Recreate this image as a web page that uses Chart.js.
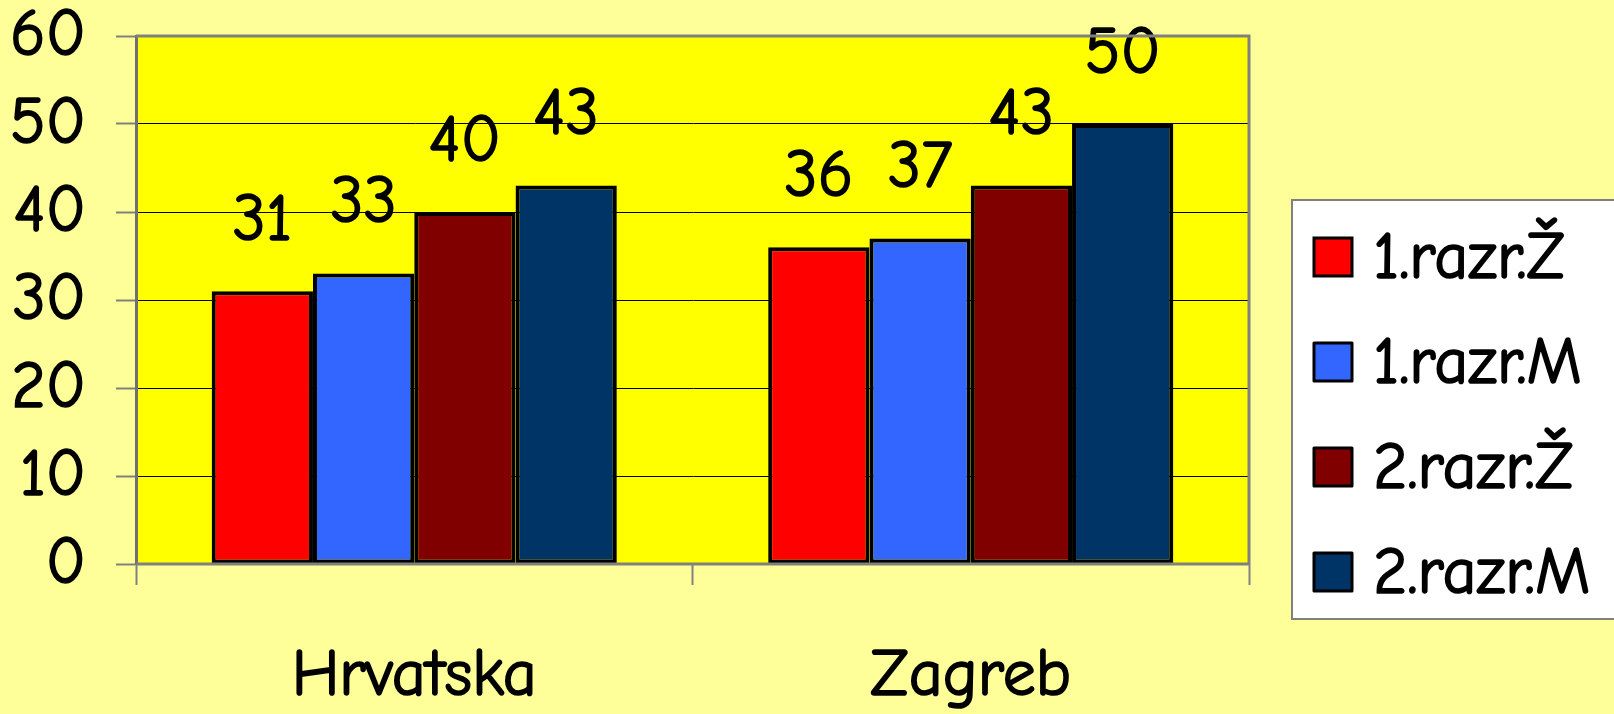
<!DOCTYPE html>
<html>
<head>
<meta charset="utf-8">
<script src="https://cdn.jsdelivr.net/npm/chart.js@4.4.1/dist/chart.umd.min.js"></script>
<style>
html,body{margin:0;padding:0;background:#FFFF99;}
canvas{display:block;}
</style>
</head>
<body>
<canvas id="c" width="1614" height="714"></canvas>
<script>
const categories = ['Hrvatska', 'Zagreb'];
const seriesNames = ['1.razr.Ž', '1.razr.M', '2.razr.Ž', '2.razr.M'];
const razr1Z = [31, 36];
const razr1M = [33, 37];
const razr2Z = [40, 43];
const razr2M = [43, 50];
const yTicks = [0, 10, 20, 30, 40, 50, 60];

const FONT = "'Comic Sans MS', 'Comic Neue', Lato, sans-serif";
const FSIZE = 66;
const FWEIGHT = 'normal';
const STROKE = 1.6;
const colors = ['#FF0000', '#3366FF', '#800000', '#003366'];
const seriesValues = [razr1Z, razr1M, razr2Z, razr2M];

function drawText(ctx, txt, x, y) {
  ctx.lineWidth = STROKE;
  ctx.strokeStyle = '#000';
  ctx.lineJoin = 'round';
  ctx.strokeText(txt, x, y);
  ctx.fillText(txt, x, y);
}

const bgPlugin = {
  id: 'bg',
  beforeDraw(chart) {
    const ctx = chart.ctx, a = chart.chartArea;
    ctx.save();
    ctx.fillStyle = '#FFFF99';
    ctx.fillRect(0, 0, chart.width, chart.height);
    ctx.fillStyle = '#FFFF00';
    ctx.fillRect(a.left, a.top, a.right - a.left, a.bottom - a.top);
    ctx.restore();
  },
  afterDraw(chart) {
    const ctx = chart.ctx, a = chart.chartArea;
    ctx.save();
    ctx.strokeStyle = '#808080';
    ctx.lineWidth = 3;
    ctx.beginPath();
    ctx.moveTo(a.left, a.top);
    ctx.lineTo(a.right, a.top);
    ctx.lineTo(a.right, a.bottom);
    ctx.stroke();
    ctx.beginPath();
    ctx.moveTo(a.left, a.bottom);
    ctx.lineTo(a.right, a.bottom);
    ctx.stroke();
    // legend
    const lx = a.right + 43, ly = 200, lw = chart.width - lx + 5, lh = 419;
    ctx.fillStyle = '#FFFFFF';
    ctx.fillRect(lx, ly, lw, lh);
    ctx.strokeStyle = '#808080';
    ctx.lineWidth = 2;
    ctx.strokeRect(lx, ly, lw, lh);
    ctx.font = FWEIGHT + ' ' + FSIZE + 'px ' + FONT;
    ctx.textBaseline = 'middle';
    ctx.textAlign = 'left';
    chart.data.datasets.forEach((ds, i) => {
      const cy = 257 + 105 * i;
      ctx.fillStyle = ds.backgroundColor;
      ctx.fillRect(lx + 22, cy - 19, 38, 38);
      ctx.strokeStyle = '#000';
      ctx.lineWidth = 3;
      ctx.strokeRect(lx + 22, cy - 19, 38, 38);
      ctx.fillStyle = '#000';
      drawText(ctx, ds.label, lx + 81, cy + 2);
    });
    ctx.restore();
  },
  afterDatasetsDraw(chart) {
    const ctx = chart.ctx;
    ctx.save();
    ctx.font = FWEIGHT + ' ' + FSIZE + 'px ' + FONT;
    ctx.fillStyle = '#000';
    ctx.textAlign = 'center';
    ctx.textBaseline = 'middle';
    chart.data.datasets.forEach((ds, i) => {
      const meta = chart.getDatasetMeta(i);
      meta.data.forEach((bar, j) => {
        drawText(ctx, String(ds.data[j]), bar.x, bar.y - 70);
      });
    });
    ctx.restore();
  }
};

new Chart(document.getElementById('c'), {
  type: 'bar',
  data: {
    labels: categories,
    datasets: seriesNames.map((name, i) => ({
      label: name,
      data: seriesValues[i],
      backgroundColor: colors[i],
      borderColor: '#000000',
      borderWidth: 4,
      borderSkipped: false,
      barPercentage: 1.0,
      categoryPercentage: 0.728
    }))
  },
  options: {
    responsive: false,
    animation: false,
    devicePixelRatio: 1,
    layout: { padding: { left: 0, top: 36, right: 365, bottom: 0 } },
    plugins: {
      legend: { display: false },
      tooltip: { enabled: false }
    },
    scales: {
      x: {
        offset: true,
        grid: {
          offset: true,
          drawOnChartArea: false,
          drawTicks: true,
          tickLength: 21,
          tickColor: '#808080',
          tickWidth: 2,
          color: '#808080'
        },
        border: { display: false },
        ticks: {
          color: '#000',
          padding: 52,
          textStrokeColor: '#000',
          textStrokeWidth: STROKE,
          font: { family: FONT, size: FSIZE, weight: FWEIGHT }
        },
        afterFit(scale) {
          scale.height = 150;
          scale.paddingLeft = 0;
          scale.paddingRight = 0;
        }
      },
      y: {
        min: 0,
        max: 60,
        afterBuildTicks(scale) {
          scale.ticks = yTicks.map(v => ({ value: v }));
        },
        grid: {
          color: '#000000',
          lineWidth: 1,
          drawTicks: true,
          tickLength: 20,
          tickColor: '#808080',
          tickWidth: 2
        },
        border: { display: true, color: '#707070', width: 3 },
        ticks: {
          color: '#000',
          padding: 30,
          textStrokeColor: '#000',
          textStrokeWidth: STROKE,
          font: { family: FONT, size: FSIZE, weight: FWEIGHT }
        },
        afterFit(scale) {
          scale.width = 136;
          scale.paddingTop = 0;
          scale.paddingBottom = 0;
        }
      }
    }
  },
  plugins: [bgPlugin]
});
</script>
</body>
</html>
